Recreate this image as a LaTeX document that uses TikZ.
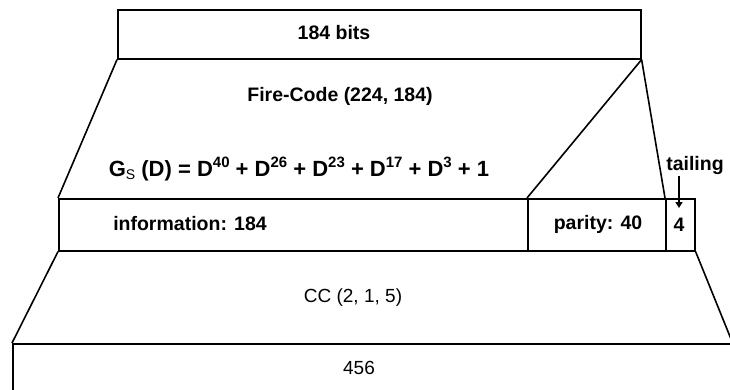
\documentclass[tikz,border=0pt]{standalone}
\usepackage{fontspec}
\setmainfont{Liberation Sans}
\usetikzlibrary{arrows.meta}
\newcommand\hi[1]{\raisebox{0.42em}{\fontsize{15}{15}\selectfont #1}}
\newcommand\lo[1]{\raisebox{-0.12em}{\fontsize{14}{14}\selectfont\mdseries #1}}
\begin{document}
\begin{tikzpicture}[x=1pt,y=-1pt,
  box/.style={draw,line width=1.6pt,rectangle,inner sep=0pt,anchor=north west},
  lbl/.style={font=\fontsize{19.5}{19.5}\selectfont\bfseries,inner sep=0pt},
  eqn/.style={font=\fontsize{22}{22}\selectfont\bfseries,inner sep=0pt},
  plain/.style={font=\fontsize{19}{19}\selectfont,inner sep=0pt},
  edge/.style={line width=1.6pt},
  every node/.append style={text=black}]
\useasboundingbox[fill=white] (0,0) rectangle (730,390);
% frame boxes
\node[box,minimum width=523pt,minimum height=49pt] (top) at (117,9) {};
\node[box,minimum width=469pt,minimum height=52pt] (info) at (58,198) {};
\node[box,minimum width=138pt,minimum height=52pt] (par) at (527,198) {};
\node[box,minimum width=29pt,minimum height=52pt] (tail) at (665,198) {};
\node[box,minimum width=719pt,minimum height=70pt] (out) at (12,343) {};
% slanted sides
\draw[edge] (top.south west) -- (info.north west);
\draw[edge] (top.south east) -- (par.north west);
\draw[edge] (top.south east) -- (tail.north west);
\draw[edge] (info.south west) -- (out.north west);
\draw[edge] (tail.south east) -- (out.north east);
% labels
\node[lbl] (t1) at (334,33) {184 bits};
\node[lbl] (t2) at (340,96) {Fire-Code (224, 184)};
\node[eqn] (t3) at (299,169) {G\lo{S} (D) = D\hi{40} + D\hi{26} + D\hi{23} + D\hi{17} + D\hi{3} + 1};
\node[lbl] (t4) at (190,224) {information: 184};
\node[lbl] (t5) at (598,224) {parity: 40};
\node[lbl] (t6) at (679,225) {4};
\node[lbl] (tl) at (695,166) {tailing};
\node[plain] (cc) at (353,298) {CC (2, 1, 5)};
\node[plain] (n456) at (359,368) {456};
% tail marker arrow
\coordinate (tip) at (679,208);
\draw[line width=1.6pt,-{Triangle[length=6pt,width=7pt]}] (679,176) -- (tip);
\end{tikzpicture}
\end{document}
